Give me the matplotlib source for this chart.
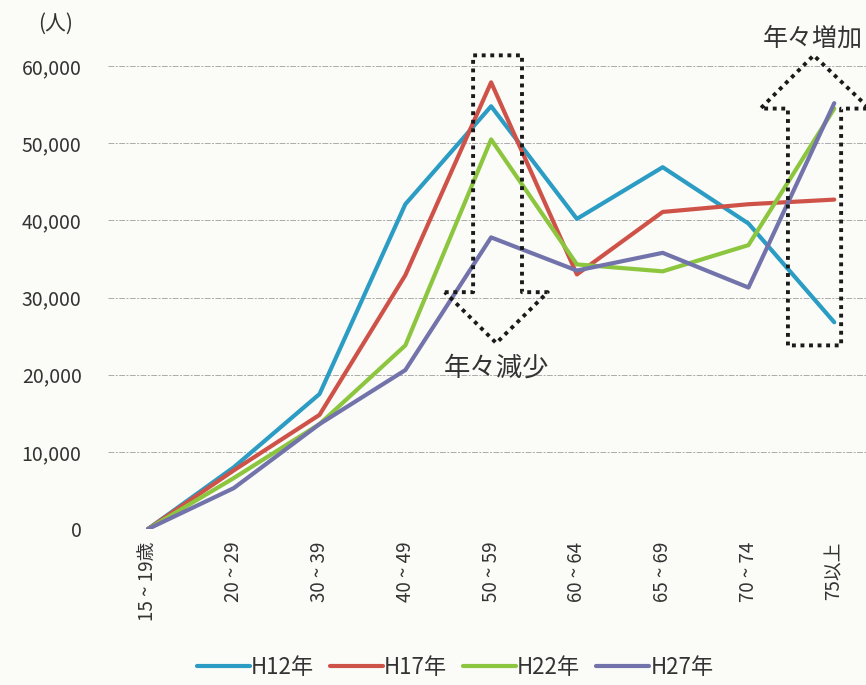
import matplotlib
matplotlib.use('Agg')
import matplotlib.pyplot as plt
import numpy as np

plt.rcParams['font.family'] = ['Noto Sans CJK JP', 'DejaVu Sans']

age_groups = ['15 ~ 19歳', '20 ~ 29', '30 ~ 39', '40 ~ 49', '50 ~ 59',
              '60 ~ 64', '65 ~ 69', '70 ~ 74', '75以上']
h12 = [0, 8000, 17500, 42100, 54800, 40200, 46900, 39600, 26800]
h17 = [0, 7600, 14800, 32900, 57900, 33000, 41100, 42100, 42700]
h22 = [0, 6600, 13600, 23800, 50500, 34300, 33400, 36800, 54500]
h27 = [0, 5300, 13600, 20600, 37800, 33500, 35800, 31300, 55200]
series_names = ['H12年', 'H17年', 'H22年', 'H27年']
colors = ['#2b9cc3', '#cf5249', '#8cc63f', '#7373ab']

bg = '#fbfbf8'
txt = '#333333'
fig = plt.figure(figsize=(8.66, 6.85), dpi=100, facecolor=bg)
ax = fig.add_axes([108 / 866, 156 / 685, 758 / 866, 486 / 685], facecolor=bg)

x = np.arange(len(age_groups))
for vals, name, c in zip([h12, h17, h22, h27], series_names, colors):
    ax.plot(x, vals, color=c, lw=3, label=name, solid_capstyle='round', zorder=3)

ax.set_xlim(-0.466, 8.37)
ax.set_ylim(0, 63000)
ax.set_yticks(np.arange(0, 60001, 10000))
ax.set_yticklabels([f'{v:,}' for v in range(0, 60001, 10000)], fontsize=14, color=txt)
ax.set_xticks(x)
ax.set_xticklabels(age_groups, rotation=90, fontsize=13.5, color=txt, va='top')
ax.tick_params(length=0)
ax.tick_params(axis='y', pad=19)
ax.tick_params(axis='x', pad=9)
for s in ax.spines.values():
    s.set_visible(False)
ax.grid(axis='y', color='#ababab', lw=0.7, linestyle=(0, (6, 1.5, 2, 1.5)))

# dotted block arrows
dot = dict(color='#1a1a1a', lw=2.8, linestyle=(0, (1, 1.2)), zorder=5, clip_on=False)
down_x = [3.46, 3.79, 3.79, 4.36, 4.36, 4.66, 4.06, 3.46]
down_y = [30700, 30700, 61400, 61400, 30700, 30700, 24100, 30700]
ax.plot(down_x, down_y, **dot)
up_x = [7.46, 7.46, 7.14, 7.76, 8.41, 8.08, 8.08, 7.46]
up_y = [23800, 54500, 54500, 61400, 54500, 54500, 23800, 23800]
ax.plot(up_x, up_y, **dot)

ax.text(4.06, 20900, '年々減少', ha='center', va='center', fontsize=19, color=txt)
ax.text(8.33, 63600, '年々増加', ha='right', va='center', fontsize=18,
        color=txt, clip_on=False)

fig.text(56 / 866, 1 - 24 / 685, '(人)', ha='center', va='center', fontsize=15, color=txt)

fig.legend(loc='center', bbox_to_anchor=(455 / 866, 1 - 667 / 685), ncol=4, frameon=False,
           fontsize=16, handlelength=2.4, handletextpad=0.05, columnspacing=0.7,
           labelcolor=txt)

fig.savefig('out.png', dpi=100, facecolor=bg)
